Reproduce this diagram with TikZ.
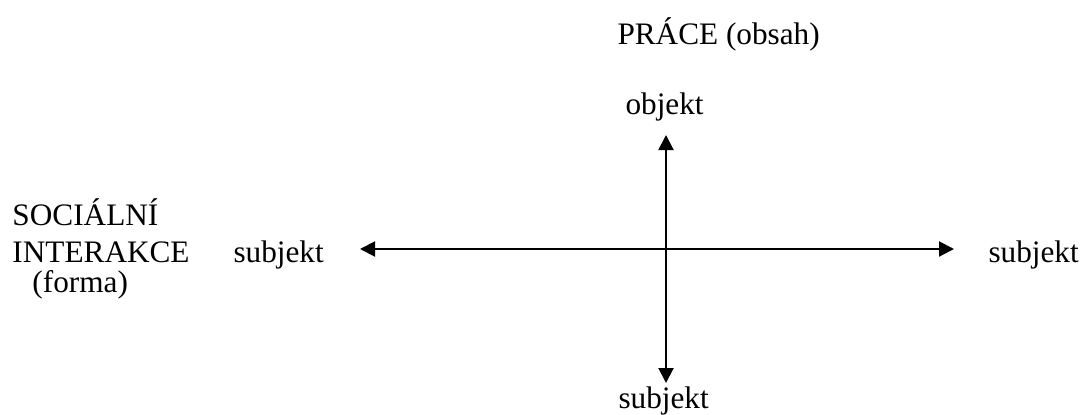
\documentclass[tikz,border=0pt]{standalone}
\usepackage{fontspec}
\setmainfont{Liberation Serif}
\usetikzlibrary{arrows.meta}

\begin{document}
\begin{tikzpicture}[x=0.4pt,y=-0.4pt,
   txt/.style={anchor=base west,inner sep=0pt,font=\fontsize{12.5}{15}\selectfont},
   osa/.style={line width=0.8pt,{Triangle[length=6pt,width=6pt]}-{Triangle[length=6pt,width=6pt]}}]
   \useasboundingbox (0,0) rectangle (1083,414);
   \node[txt] (prace) at (617,44) {PRÁCE (obsah)};
   \node[txt] (objekt) at (625,114) {objekt};
   \node[txt] (soc) at (12,225) {SOCIÁLNÍ};
   \node[txt] (inter) at (12,262) {INTERAKCE};
   \node[txt] (forma) at (32,292) {(forma)};
   \node[txt] (subL) at (233,262) {subjekt};
   \node[txt] (subR) at (988,262) {subjekt};
   \node[txt] (subD) at (618,408) {subjekt};
   % osy
   \coordinate (nahore) at (666,135);
   \coordinate (dole) at (666,383);
   \coordinate (vlevo) at (360,249);
   \coordinate (vpravo) at (954,249);
   \draw[osa] (vlevo) -- (vpravo);
   \draw[osa] (dole) -- (nahore);
\end{tikzpicture}
\end{document}
